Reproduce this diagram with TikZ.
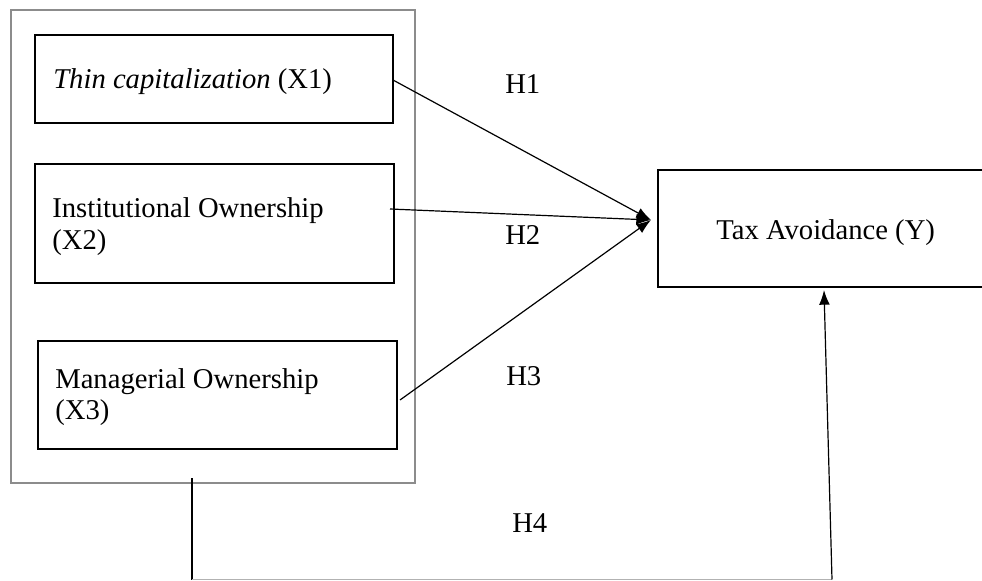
\documentclass[tikz,border=0pt]{standalone}
\usepackage{fontspec}
\setmainfont{Liberation Serif}
\usetikzlibrary{arrows.meta,calc}
\begin{document}
\begin{tikzpicture}[x=0.75pt,y=-0.75pt,
  box/.style={draw=black,line width=0.9pt,inner sep=0pt,outer sep=0pt},
  outerbox/.style={draw=black!45,line width=0.8pt,inner sep=0pt,outer sep=0pt},
  txt/.style={anchor=base west,inner sep=0pt,font=\fontsize{21.5}{24}\selectfont},
  lbl/.style={anchor=base west,inner sep=0pt,font=\fontsize{21.5}{24}\selectfont},
  conn/.style={line width=0.9pt,-{Latex[length=11pt,width=8pt]}},
  link/.style={line width=0.9pt}]
\useasboundingbox (0,0) rectangle (982,581);
\clip (0,0) rectangle (982,581);
% outer grouping box
\node[outerbox,minimum width=303pt,minimum height=354.75pt] (grp) at (213,246.5) {};
% inner boxes
\node[box,minimum width=268.5pt,minimum height=66pt] (x1) at (214,79) {};
\node[box,minimum width=269.25pt,minimum height=89.25pt] (x2) at (214.5,223.5) {};
\node[box,minimum width=269.25pt,minimum height=81pt] (x3) at (217.5,395) {};
\node[box,minimum width=256.5pt,minimum height=87.75pt] (yb) at (829,228.5) {};
% texts
\node[txt] (t1) at (53,89) {\textit{Thin capitalization} (X1)};
\node[txt] (t2a) at (52,218) {Institutional Ownership};
\node[txt] (t2b) at (52,249) {(X2)};
\node[txt] (t3a) at (55,388) {Managerial Ownership};
\node[txt] (t3b) at (55,419) {(X3)};
\node[txt] (ty) at (716,239) {Tax Avoidance (Y)};
% hypothesis labels
\node[lbl] (h1) at (505,94) {H1};
\node[lbl] (h2) at (505,244) {H2};
\node[lbl] (h3) at (506,385) {H3};
\node[lbl] (h4) at (512,532) {H4};
% connectors
\coordinate (tip) at (651,220);
\draw[conn] ($(x1.east)+(0,1)$) -- (tip);
\draw[conn] ($(x2.east)+(-4,-14.5)$) -- (tip);
\draw[conn] ($(x3.east)+(3,5)$) -- (tip);
\coordinate (s4) at (192,478);
\coordinate (b4l) at (192,579.5);
\coordinate (b4r) at (832,579.5);
\coordinate (e4) at ($(yb.south)+(-5,3)$);
\draw[link] (s4) -- (b4l);
\draw[line width=0.8pt,draw=black!30] (b4l) -- (b4r);
\draw[conn] (b4r) -- (e4);
\end{tikzpicture}
\end{document}
